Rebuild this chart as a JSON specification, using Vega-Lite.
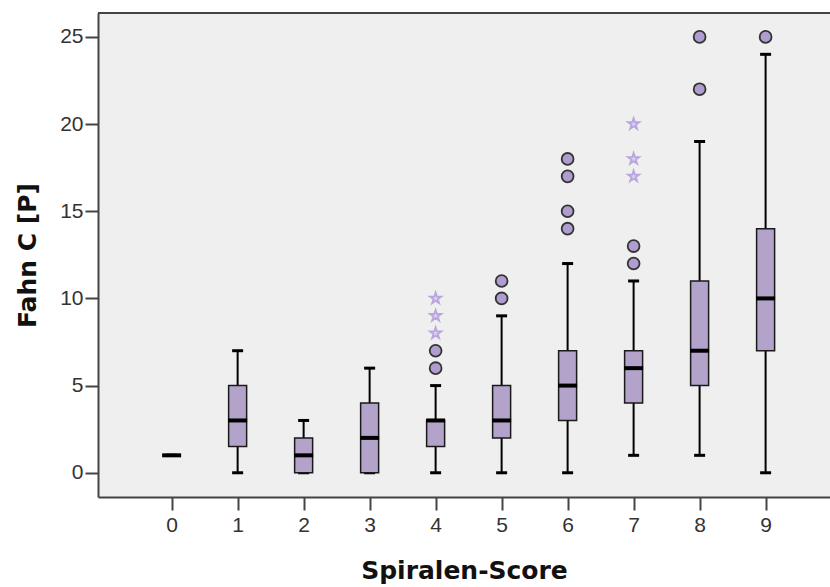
{
  "$schema": "https://vega.github.io/schema/vega-lite/v6.json",
  "width": 732,
  "height": 484,
  "autosize": {"type": "none"},
  "padding": {"left": 98, "top": 13, "right": 0, "bottom": 90},
  "background": "white",
  "config": {
    "view": {"fill": "#efefef", "stroke": null},
    "tick": {"opacity": 1},
    "axis": {
      "grid": false,
      "domainColor": "#444444",
      "domainWidth": 2,
      "tickColor": "#444444",
      "tickWidth": 2,
      "labelFont": "Liberation Sans",
      "labelFontSize": 21,
      "labelColor": "#333333",
      "titleFont": "DejaVu Sans",
      "titleFontSize": 25,
      "titleFontWeight": "bold",
      "titleColor": "#111111"
    }
  },
  "datasets": {
    "boxes": [
      {"score": 0, "lower": 1, "q1": 1, "median": 1, "q3": 1, "upper": 1},
      {"score": 1, "lower": 0, "q1": 1.5, "median": 3, "q3": 5, "upper": 7},
      {"score": 2, "lower": 0, "q1": 0, "median": 1, "q3": 2, "upper": 3},
      {"score": 3, "lower": 0, "q1": 0, "median": 2, "q3": 4, "upper": 6},
      {"score": 4, "lower": 0, "q1": 1.5, "median": 3, "q3": 3, "upper": 5},
      {"score": 5, "lower": 0, "q1": 2, "median": 3, "q3": 5, "upper": 9},
      {"score": 6, "lower": 0, "q1": 3, "median": 5, "q3": 7, "upper": 12},
      {"score": 7, "lower": 1, "q1": 4, "median": 6, "q3": 7, "upper": 11},
      {"score": 8, "lower": 1, "q1": 5, "median": 7, "q3": 11, "upper": 19},
      {"score": 9, "lower": 0, "q1": 7, "median": 10, "q3": 14, "upper": 24}
    ],
    "outliers": [
      {"score": 4, "value": 6, "kind": "Ausreißer"},
      {"score": 4, "value": 7, "kind": "Ausreißer"},
      {"score": 4, "value": 8, "kind": "Extremwert"},
      {"score": 4, "value": 9, "kind": "Extremwert"},
      {"score": 4, "value": 10, "kind": "Extremwert"},
      {"score": 5, "value": 10, "kind": "Ausreißer"},
      {"score": 5, "value": 11, "kind": "Ausreißer"},
      {"score": 6, "value": 14, "kind": "Ausreißer"},
      {"score": 6, "value": 15, "kind": "Ausreißer"},
      {"score": 6, "value": 17, "kind": "Ausreißer"},
      {"score": 6, "value": 18, "kind": "Ausreißer"},
      {"score": 7, "value": 12, "kind": "Ausreißer"},
      {"score": 7, "value": 13, "kind": "Ausreißer"},
      {"score": 7, "value": 17, "kind": "Extremwert"},
      {"score": 7, "value": 18, "kind": "Extremwert"},
      {"score": 7, "value": 20, "kind": "Extremwert"},
      {"score": 8, "value": 22, "kind": "Ausreißer"},
      {"score": 8, "value": 25, "kind": "Ausreißer"},
      {"score": 9, "value": 25, "kind": "Ausreißer"}
    ],
    "frame": [{"top": 26.37}]
  },
  "layer": [
    {
      "data": {"name": "boxes"},
      "mark": {"type": "rule", "color": "#000000", "strokeWidth": 2},
      "encoding": {
        "x": {
          "field": "score",
          "type": "quantitative",
          "scale": {"domain": [-1.04, 9.9], "nice": false, "zero": false},
          "axis": {
            "values": [0, 1, 2, 3, 4, 5, 6, 7, 8, 9],
            "format": "d",
            "tickSize": 13,
            "labelPadding": 4,
            "title": "Spiralen-Score",
            "titleBaseline": "middle",
            "titleY": 73
          }
        },
        "y": {
          "field": "lower",
          "type": "quantitative",
          "scale": {"domain": [-1.39, 26.37], "nice": false, "zero": false},
          "axis": {
            "values": [0, 5, 10, 15, 20, 25],
            "format": "d",
            "tickSize": 13,
            "labelPadding": 2,
            "title": "Fahn C [P]",
            "titleBaseline": "middle",
            "titleX": -71,
            "titleY": 242
          }
        },
        "y2": {"field": "upper"}
      }
    },
    {
      "data": {"name": "boxes"},
      "mark": {"type": "tick", "orient": "horizontal", "size": 11, "thickness": 3, "color": "#000000", "opacity": 1},
      "encoding": {
        "x": {"field": "score", "type": "quantitative"},
        "y": {"field": "lower", "type": "quantitative"}
      }
    },
    {
      "data": {"name": "boxes"},
      "mark": {"type": "tick", "orient": "horizontal", "size": 11, "thickness": 3, "color": "#000000", "opacity": 1},
      "encoding": {
        "x": {"field": "score", "type": "quantitative"},
        "y": {"field": "upper", "type": "quantitative"}
      }
    },
    {
      "data": {"name": "boxes"},
      "mark": {"type": "bar", "size": 18, "fill": "#b3a3cb", "stroke": "#1a1a1a", "strokeWidth": 1.5},
      "encoding": {
        "x": {"field": "score", "type": "quantitative"},
        "y": {"field": "q1", "type": "quantitative"},
        "y2": {"field": "q3"}
      }
    },
    {
      "data": {"name": "boxes"},
      "mark": {"type": "tick", "orient": "horizontal", "size": 19, "thickness": 4, "color": "#000000", "opacity": 1},
      "encoding": {
        "x": {"field": "score", "type": "quantitative"},
        "y": {"field": "median", "type": "quantitative"}
      }
    },
    {
      "data": {"name": "outliers"},
      "mark": {"type": "point", "filled": true, "opacity": 1, "strokeWidth": 1.8, "size": 140},
      "encoding": {
        "x": {"field": "score", "type": "quantitative"},
        "y": {"field": "value", "type": "quantitative"},
        "shape": {"field": "kind", "type": "nominal", "scale": {"domain": ["Ausreißer", "Extremwert"], "range": ["circle", "M0,-1L0.2245,-0.309L0.951,-0.309L0.363,0.118L0.588,0.809L0,0.382L-0.588,0.809L-0.363,0.118L-0.951,-0.309L-0.2245,-0.309Z"]}, "legend": null},
        "fill": {"field": "kind", "type": "nominal", "scale": {"domain": ["Ausreißer", "Extremwert"], "range": ["#b09dcf", "#dcd2f0"]}, "legend": null},
        "stroke": {"field": "kind", "type": "nominal", "scale": {"domain": ["Ausreißer", "Extremwert"], "range": ["#333333", "#b8a6dc"]}, "legend": null}
      }
    },
    {
      "data": {"name": "frame"},
      "mark": {"type": "rule", "color": "#444444", "strokeWidth": 2},
      "encoding": {
        "y": {"field": "top", "type": "quantitative"}
      }
    }
  ]
}
